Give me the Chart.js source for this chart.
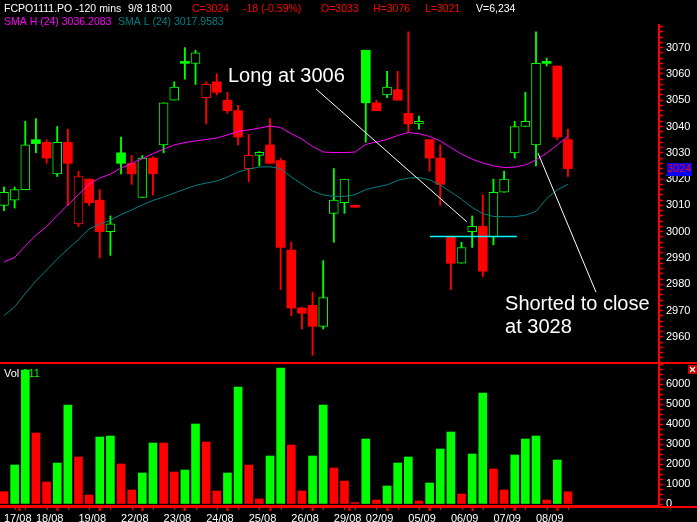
<!DOCTYPE html>
<html>
<head>
<meta charset="utf-8">
<script src="https://cdn.jsdelivr.net/npm/chart.js@4/dist/chart.umd.min.js"></script>
<style>
html,body{margin:0;padding:0;background:#000;}
canvas{display:block;}
</style>
</head>
<body>
<canvas id="c" width="697" height="522" style="width:697px;height:522px"></canvas>
<script>
// ---- data (120-minute bars, FCPO1111.PO) ----
const dayLabels = ['17/08','18/08','19/08','22/08','23/08','24/08','25/08','26/08','29/08','02/09','05/09','06/09','07/09','08/09'];
const dayStart  = [0,3,7,11,15,19,23,27,31,34,38,42,46,50];

const open = [3010,3012,3016,3035,3034,3022,3034,3003,3020,3012,
              3000,3030,3026,3013,3028,3033,3050,3064,3064,3051,
              3057,3050,3046,3024,3029,3033,3027,2993,2971,2972,
              2964,3007,3011,3009.3,3069,3049,3052,3054,3045,3041,
              3035,3028,2998,2988,3000,3002,2998,3015,3030,3040,
              3033,3064,3063,3035];
const high = [3017,3017,3042,3043,3035,3040,3039,3023,3020,3016,
              3006,3036,3029,3029,3028.5,3049,3057,3070,3069,3057,
              3060,3053,3048,3037,3030.5,3043,3028,2996,2971.3,2977,
              2989,3024,3020,3009.3,3069,3050,3061,3061,3076,3044,
              3035,3033,2998,2996,3006,3014,3020,3023,3042,3053,
              3076,3066,3063,3039];
const low  = [3008,3009,3016,3030,3026,3021,3010,3002,3010,2990,
              2991,3022,3018,3013,3014,3030,3050,3058,3056,3041,
              3052,3045,3033,3019,3025,3026,2978,2968,2963,2953,
              2963,2996,3007,3009.3,3034,3046,3051,3050,3038,3039,
              3023,3010,2978,2988,2994,2983,2995,3015,3028,3040,
              3025,3063,3035,3021];
const close = [3015,3016,3033,3033.5,3028,3034,3026,3021,3011,3000,
               3003,3026,3022,3028,3022,3049,3055,3064,3068,3056,
               3053,3046,3036,3029,3030.2,3026,2994,2971,2969,2964,
               2975,3012,3020,3009.3,3049,3046,3055,3050,3041,3042,
               3028,3018,2988,2994,3002,2985,3015,3020,3040,3042,
               3064,3064,3036,3024];
const volume = [617,1950,6700,3550,1100,2050,4950,2350,450,3350,
                3400,2000,700,1550,3050,3050,1600,1700,4000,3100,
                650,1550,5850,1950,250,2400,6800,2950,650,2400,
                4950,1800,1150,70,3250,200,900,2050,2350,150,
                1050,2750,3600,500,2500,5550,1750,700,2450,3250,
                3400,200,2200,611];
const volumeUp = [0,1,1,0,0,1,1,0,0,1,
                  1,0,0,1,1,0,0,1,1,0,
                  0,1,1,0,0,1,1,0,0,1,
                  1,0,0,0,1,0,1,1,1,0,
                  1,1,1,0,1,1,0,0,1,1,
                  1,0,1,0];
const smaHigh = [2988.5,2990.2,2994.6,2998.6,3002.0,3006.2,3010.2,3014.1,3018.1,3020.4,
                 3021.9,3024.2,3025.9,3027.8,3029.7,3031.4,3033.0,3033.9,3034.5,3035.1,
                 3035.6,3036.8,3038.1,3038.7,3039.4,3040.2,3039.6,3037.3,3035.2,3032.4,
                 3030.3,3030.1,3030.1,3030.3,3033.2,3034.1,3035.1,3036.6,3037.7,3037.3,
                 3036.2,3034.5,3032.0,3029.5,3027.6,3026.1,3025.0,3024.4,3024.6,3025.4,
                 3027.3,3029.9,3033.0,3036.2];
const smaLow = [2968.1,2971.4,2976.5,2981.3,2985.4,2989.6,2993.4,2997.0,3001.0,3002.9,
                3004.4,3006.5,3008.3,3010.2,3011.9,3013.2,3014.7,3016.2,3017.6,3018.5,
                3019.3,3020.8,3022.7,3023.8,3024.6,3024.7,3024.0,3020.8,3018.1,3015.5,
                3014.0,3013.4,3013.4,3014.1,3016.0,3017.0,3017.8,3019.5,3020.4,3020.6,
                3019.7,3017.8,3015.1,3012.4,3009.2,3006.9,3005.8,3005.7,3005.7,3006.3,
                3007.7,3012.6,3015.9,3018.0];

// annotations (in data units: bar index, price)
const noteTexts = [['Long at 3006'], ['Shorted to close', 'at 3028']];
const noteAnchors = [[21.05, 3056.9], [47.09, 2970.2]];
const pointerFrom = [[29.32, 3054.3], [50.19, 3029.9]];
const pointerTo   = [[43.49, 3003.8], [55.64, 2977.0]];
const entryLevel = 2998.2, entryFromBar = 40.04, entryToBar = 48.2;

// ---- derived styling ----
const GREEN = '#00ff00', RED = '#ff0000';
const FONT = '"Liberation Sans", Arial, sans-serif';
const n = close.length;
const idx = close.map((_, i) => i);
const candleColor = close.map((c, i) => (i === 0 ? c >= open[i] : c >= close[i - 1]) ? GREEN : RED);
const hollow = close.map((c, i) => c > open[i]);

const ctxEl = document.getElementById('c');
const overlay = {
  id: 'overlay',
  beforeDraw(chart) {
    const c = chart.ctx;
    c.save(); c.fillStyle = '#000'; c.fillRect(0, 0, chart.width, chart.height); c.restore();
  },
  beforeDatasetsDraw(chart) {
    const c = chart.ctx, yv = chart.scales.yv;
    c.save();
    c.font = '11px ' + FONT; c.textBaseline = 'alphabetic';
    c.fillStyle = '#fff'; c.fillText('Vol', 4, yv.top + 14);
    c.fillStyle = GREEN; c.fillText(String(volume[n - 1]), 4 + c.measureText('Vol ').width, yv.top + 14);
    c.restore();
  },
  afterDatasetsDraw(chart) {
    const c = chart.ctx, xs = chart.scales.x, ys = chart.scales.y;
    c.save();
    // entry level
    c.strokeStyle = '#00ffff'; c.lineWidth = 1.5;
    c.beginPath();
    c.moveTo(xs.getPixelForValue(entryFromBar), ys.getPixelForValue(entryLevel));
    c.lineTo(xs.getPixelForValue(entryToBar), ys.getPixelForValue(entryLevel));
    c.stroke();
    // pointers
    c.strokeStyle = '#fff'; c.lineWidth = 1;
    pointerFrom.forEach((f, k) => {
      const t = pointerTo[k];
      c.beginPath();
      c.moveTo(xs.getPixelForValue(f[0]), ys.getPixelForValue(f[1]));
      c.lineTo(xs.getPixelForValue(t[0]), ys.getPixelForValue(t[1]));
      c.stroke();
    });
    // notes
    c.fillStyle = '#fff'; c.font = '20px ' + FONT; c.textBaseline = 'alphabetic';
    noteTexts.forEach((lines, k) => {
      const x = xs.getPixelForValue(noteAnchors[k][0]);
      const y = ys.getPixelForValue(noteAnchors[k][1]);
      lines.forEach((t, j) => c.fillText(t, x, y + j * 23));
    });
    c.restore();
  },
  afterDraw(chart) {
    const c = chart.ctx, xs = chart.scales.x, ys = chart.scales.y, yv = chart.scales.yv;
    c.save();
    // full-width separators
    c.strokeStyle = RED; c.lineWidth = 2;
    c.beginPath(); c.moveTo(0, ys.bottom); c.lineTo(chart.width, ys.bottom); c.stroke();
    c.beginPath(); c.moveTo(0, xs.top + 1); c.lineTo(chart.width, xs.top + 1); c.stroke();
    // minor per-bar ticks on time axis
    c.lineWidth = 1;
    idx.forEach(i => {
      if (dayStart.includes(i)) return;
      const x = Math.round(xs.getPixelForValue(i)) + 0.5;
      c.beginPath(); c.moveTo(x, xs.top + 2); c.lineTo(x, xs.top + 4); c.stroke();
    });
    // last price tag
    const ly = ys.getPixelForValue(close[n - 1]);
    c.font = '11px ' + FONT;
    const tx = ys.left + 8;
    c.fillStyle = '#0000ff';
    c.fillRect(tx, Math.round(ly) - 6, 25, 13);
    c.fillStyle = RED; c.textBaseline = 'middle';
    c.fillText(String(close[n - 1]), tx, ly + 0.5);
    // close box of volume pane
    c.fillStyle = '#c00000'; c.fillRect(688, yv.top + 2, 9, 9);
    c.strokeStyle = '#fff'; c.lineWidth = 1.2;
    c.beginPath(); c.moveTo(690, yv.top + 4); c.lineTo(695, yv.top + 9);
    c.moveTo(695, yv.top + 4); c.lineTo(690, yv.top + 9); c.stroke();
    // header
    c.textBaseline = 'alphabetic'; c.font = '10.5px ' + FONT;
    const header = [
      ['FCPO1111.PO -120 mins', '#fff', 4, 12],
      ['9/8 18:00', '#fff', 128, 12],
      ['C=3024', RED, 192, 12],
      ['-18 (-0.59%)', RED, 243, 12],
      ['O=3033', RED, 321, 12],
      ['H=3076', RED, 373, 12],
      ['L=3021', RED, 425, 12],
      ['V=6,234', '#fff', 476, 12],
      ['SMA H (24) 3036.2083', '#ff00ff', 4, 24.5],
      ['SMA L (24) 3017.9583', '#008080', 118, 24.5]
    ];
    header.forEach(h => { c.fillStyle = h[1]; c.fillText(h[0], h[2], h[3]); });
    c.restore();
  }
};

const pts = arr => arr.map((v, i) => ({x: i, y: v}));

new Chart(ctxEl, {
  type: 'bar',
  data: {
    datasets: [
      { type: 'line', label: 'SMA H (24)', data: pts(smaHigh), yAxisID: 'y', borderColor: '#ff00ff', borderWidth: 1, pointRadius: 0, tension: 0, order: 0 },
      { type: 'line', label: 'SMA L (24)', data: pts(smaLow), yAxisID: 'y', borderColor: '#008080', borderWidth: 1, pointRadius: 0, tension: 0, order: 0 },
      { label: 'body', data: idx.map(i => ({x: i, y: [open[i], close[i]]})), yAxisID: 'y', grouped: false,
        barThickness: 9, minBarLength: 2, borderSkipped: false,
        backgroundColor: idx.map(i => hollow[i] ? '#000' : candleColor[i]),
        borderColor: candleColor, borderWidth: idx.map(i => hollow[i] ? 1 : 0), order: 1 },
      { label: 'wick', data: idx.map(i => ({x: i, y: [low[i], high[i]]})), yAxisID: 'y', grouped: false,
        barThickness: 1.2, borderSkipped: false, backgroundColor: candleColor, borderWidth: 0, order: 2 },
      { label: 'Vol', data: idx.map(i => ({x: i, y: volume[i]})), yAxisID: 'yv', grouped: false,
        barThickness: 8, backgroundColor: idx.map(i => volumeUp[i] ? GREEN : RED), borderWidth: 0, order: 3 }
    ]
  },
  options: {
    responsive: false,
    animation: false,
    devicePixelRatio: 1,
    layout: { padding: { top: 25, left: 0, right: 0, bottom: 0 } },
    plugins: { legend: { display: false }, tooltip: { enabled: false }, title: { display: false } },
    scales: {
      x: {
        type: 'linear', min: -0.376, max: 61.56, offset: false,
        afterBuildTicks: s => { s.ticks = dayStart.map(v => ({value: v})); },
        afterFit: s => { s.height = 16; },
        ticks: { autoSkip: false, maxRotation: 0, minRotation: 0, align: 'start', color: '#fff', padding: 1,
                 font: { family: FONT, size: 11 },
                 callback: v => dayLabels[dayStart.indexOf(Math.round(v))] },
        grid: { display: true, drawOnChartArea: false, drawTicks: true, tickLength: 5, tickColor: RED, tickWidth: 2 },
        border: { display: true, color: RED, width: 2 }
      },
      y: {
        type: 'linear', position: 'right', stack: 'pane', stackWeight: 338,
        min: 2950.08, max: 3078.6,
        afterFit: s => { s.width = 38; },
        ticks: { stepSize: 2, autoSkip: false, includeBounds: false, color: '#fff', padding: 3,
                 font: { family: FONT, size: 11 },
                 callback: v => { const r = Math.round(v); return (Math.abs(v - r) < 1e-6 && r % 10 === 0) ? String(r) : ''; } },
        grid: { display: true, drawOnChartArea: false, drawTicks: true, tickLength: 4, tickColor: RED, tickWidth: 1.5 },
        border: { display: true, color: RED, width: 2 }
      },
      yv: {
        type: 'linear', position: 'right', stack: 'pane', stackWeight: 143,
        min: -100, max: 7050,
        afterFit: s => { s.width = 38; },
        ticks: { stepSize: 250, autoSkip: false, includeBounds: false, color: '#fff', padding: 3,
                 font: { family: FONT, size: 11 },
                 callback: v => { const r = Math.round(v); return (r % 1000 === 0 && r <= 6000) ? String(r) : ''; } },
        grid: { display: true, drawOnChartArea: false, drawTicks: true, tickLength: 4, tickColor: RED, tickWidth: 1.5 },
        border: { display: true, color: RED, width: 2 }
      }
    }
  },
  plugins: [overlay]
});
</script>
</body>
</html>
